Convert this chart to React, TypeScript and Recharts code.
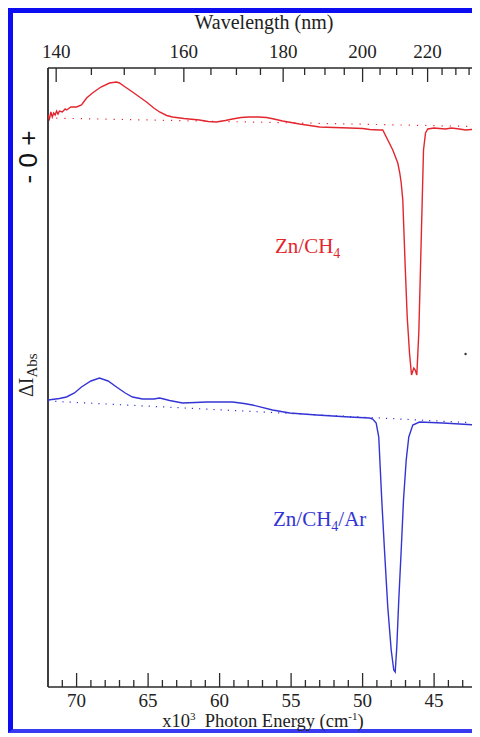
import React from 'react';
import { LineChart, Line, XAxis, YAxis, ReferenceDot, ReferenceLine } from 'recharts';

// Photon energy (x10^3 cm^-1) tick positions on the bottom axis
const energyTicks = [71, 70, 69, 68, 67, 66, 65, 64, 63, 62, 61, 60, 59, 58, 57, 56, 55, 54, 53, 52, 51, 50, 49, 48, 47, 46, 45, 44, 43];
// Wavelength (nm) tick labels on the top axis
const wavelengthTicks = [140, 145, 150, 155, 160, 165, 170, 175, 180, 185, 190, 195, 200, 205, 210, 215, 220, 225, 230, 235];

// Zn/CH4 spectrum (e = photon energy, v = offset ΔI_Abs, arbitrary units)
const redSpectrum = [
  { e: 72.0, v: 57.2 }, { e: 71.9, v: 56.8 }, { e: 71.8, v: 57.5 }, { e: 71.7, v: 57.0 },
  { e: 71.6, v: 57.4 }, { e: 71.5, v: 57.2 }, { e: 71.4, v: 57.6 }, { e: 71.3, v: 57.3 },
  { e: 71.2, v: 57.6 }, { e: 71.0, v: 57.5 }, { e: 70.8, v: 57.8 }, { e: 70.7, v: 57.7 },
  { e: 70.4, v: 58.0 }, { e: 70.0, v: 58.0 }, { e: 69.66, v: 58.2 }, { e: 69.3, v: 58.9 },
  { e: 68.89, v: 59.4 }, { e: 68.3, v: 60.0 }, { e: 67.7, v: 60.4 }, { e: 67.21, v: 60.5 },
  { e: 67.0, v: 60.4 }, { e: 66.6, v: 60.0 }, { e: 66.09, v: 59.5 }, { e: 65.6, v: 59.0 },
  { e: 65.11, v: 58.5 }, { e: 64.6, v: 57.9 }, { e: 64.2, v: 57.5 }, { e: 63.7, v: 57.15 },
  { e: 63.29, v: 57.0 }, { e: 62.5, v: 56.85 }, { e: 61.41, v: 56.7 }, { e: 60.8, v: 56.55 },
  { e: 60.22, v: 56.5 }, { e: 59.6, v: 56.65 }, { e: 59.1, v: 56.8 }, { e: 58.5, v: 56.95 },
  { e: 57.91, v: 57.0 }, { e: 57.3, v: 57.0 }, { e: 56.72, v: 56.95 }, { e: 56.2, v: 56.8 },
  { e: 55.6, v: 56.6 }, { e: 55.0, v: 56.45 }, { e: 54.41, v: 56.3 }, { e: 53.7, v: 56.15 },
  { e: 53.01, v: 56.0 }, { e: 52.0, v: 55.95 }, { e: 50.92, v: 55.9 }, { e: 50.0, v: 55.85 },
  { e: 49.5, v: 55.75 }, { e: 48.81, v: 55.7 }, { e: 48.59, v: 55.7 }, { e: 47.89, v: 53.7 },
  { e: 47.54, v: 52.4 }, { e: 47.4, v: 51.4 }, { e: 47.3, v: 50.4 }, { e: 47.19, v: 48.7 },
  { e: 47.02, v: 42.0 }, { e: 46.88, v: 37.0 }, { e: 46.72, v: 33.4 }, { e: 46.58, v: 31.2 },
  { e: 46.42, v: 31.9 }, { e: 46.32, v: 31.7 }, { e: 46.21, v: 31.2 }, { e: 46.07, v: 35.4 },
  { e: 45.95, v: 42.0 }, { e: 45.83, v: 48.7 }, { e: 45.74, v: 53.7 }, { e: 45.6, v: 55.4 },
  { e: 45.44, v: 55.8 }, { e: 45.0, v: 55.9 }, { e: 44.62, v: 55.85 }, { e: 44.2, v: 55.8 },
  { e: 43.8, v: 55.9 }, { e: 43.22, v: 55.8 }, { e: 42.8, v: 55.7 }, { e: 42.4, v: 55.75 },
  { e: 42.0, v: 55.7 },
];

// Zn/CH4/Ar spectrum
const blueSpectrum = [
  { e: 72.0, v: 28.7 }, { e: 71.2, v: 28.85 }, { e: 70.71, v: 29.0 }, { e: 70.15, v: 29.4 },
  { e: 69.66, v: 30.0 }, { e: 69.0, v: 30.6 }, { e: 68.4, v: 30.9 }, { e: 67.8, v: 30.6 },
  { e: 67.21, v: 30.0 }, { e: 66.6, v: 29.4 }, { e: 66.09, v: 29.0 }, { e: 65.39, v: 28.8 },
  { e: 64.6, v: 28.8 }, { e: 64.2, v: 28.9 }, { e: 63.9, v: 28.8 }, { e: 63.5, v: 28.65 },
  { e: 62.59, v: 28.4 }, { e: 61.7, v: 28.45 }, { e: 60.92, v: 28.5 }, { e: 59.1, v: 28.5 },
  { e: 58.3, v: 28.35 }, { e: 57.7, v: 28.2 }, { e: 56.3, v: 27.7 }, { e: 55.1, v: 27.4 },
  { e: 53.22, v: 27.2 }, { e: 50.92, v: 27.0 }, { e: 49.52, v: 26.9 }, { e: 49.29, v: 26.8 },
  { e: 49.05, v: 26.4 }, { e: 48.87, v: 25.0 }, { e: 48.77, v: 22.0 }, { e: 48.66, v: 18.7 },
  { e: 48.47, v: 13.7 }, { e: 48.24, v: 8.0 }, { e: 48.0, v: 3.7 }, { e: 47.82, v: 1.7 },
  { e: 47.72, v: 1.5 }, { e: 47.61, v: 4.0 }, { e: 47.47, v: 8.7 }, { e: 47.3, v: 13.7 },
  { e: 47.14, v: 18.7 }, { e: 46.95, v: 22.7 }, { e: 46.77, v: 25.0 }, { e: 46.49, v: 26.2 },
  { e: 46.02, v: 26.5 }, { e: 44.39, v: 26.4 }, { e: 43.22, v: 26.3 }, { e: 42.0, v: 26.2 },
];

// Dotted baselines
const redBaseline = [{ e: 72, v: 56.9 }, { e: 42, v: 56.05 }];
const blueBaseline = [{ e: 72, v: 28.6 }, { e: 42, v: 26.4 }];

const Y_MAX = 61.9;
const X_MIN = 42;
const X_MAX = 72;
const AXIS = '#2a2a2a';
const RED = '#e3262e';
const BLUE = '#3434d4';
const SERIF = '"Liberation Serif", "Times New Roman", Times, serif';
const SANS = '"Liberation Sans", Arial, sans-serif';

const BottomTick = (props: any) => {
  const { x, y, payload } = props;
  const v = Math.round(payload.value);
  const major = v % 5 === 0;
  return (
    <g>
      <line x1={x} x2={x} y1={y} y2={y - (major ? 14 : 7)} stroke={AXIS} strokeWidth={1.3} />
      {major && (
        <text x={x} y={y + 20} textAnchor="middle" fontFamily={SERIF} fontSize={19} fill="#222">
          {v}
        </text>
      )}
    </g>
  );
};

const TopTick = (props: any) => {
  const { x, y, payload } = props;
  const wl = Math.round(10000 / payload.value);
  const major = wl % 20 === 0;
  return (
    <g>
      <line x1={x} x2={x} y1={y} y2={y + (major ? 14 : 7)} stroke={AXIS} strokeWidth={1.3} />
      {major && (
        <text x={x} y={y - 10} textAnchor="middle" fontFamily={SERIF} fontSize={19} fill="#222">
          {wl}
        </text>
      )}
    </g>
  );
};

export default function App() {
  return (
    <div
      style={{
        position: 'relative',
        width: 472,
        height: 725,
        boxSizing: 'border-box',
        borderTop: '5px solid #0d0df2',
        borderLeft: '5px solid #0d0df2',
        borderBottom: '4px solid #3a3af0',
        borderRight: 'none',
        background: '#fff',
      }}
    >
      <style>{'html,body{overflow:hidden;}'}</style>
      <LineChart width={467} height={716} margin={{ top: 25, right: 3, bottom: 12, left: 35 }}>
        <XAxis
          xAxisId="bottom"
          dataKey="e"
          type="number"
          domain={[X_MIN, X_MAX]}
          reversed
          allowDataOverflow
          ticks={energyTicks}
          interval={0}
          height={30}
          tickSize={0}
          tickMargin={0}
          tickLine={false}
          tick={<BottomTick />}
          axisLine={{ stroke: AXIS, strokeWidth: 1.6 }}
        />
        <XAxis
          xAxisId="top"
          orientation="top"
          dataKey="e"
          type="number"
          domain={[X_MIN, X_MAX]}
          reversed
          allowDataOverflow
          ticks={wavelengthTicks.map((w) => 10000 / w)}
          interval={0}
          height={30}
          tickSize={0}
          tickMargin={0}
          tickLine={false}
          tick={<TopTick />}
          axisLine={{ stroke: AXIS, strokeWidth: 1.6 }}
        />
        <YAxis yAxisId="left" type="number" domain={[0, Y_MAX]} allowDataOverflow width={0} hide />
        <ReferenceLine xAxisId="bottom" yAxisId="left" x={X_MAX} stroke={AXIS} strokeWidth={1.8} ifOverflow="visible" />
        <ReferenceLine xAxisId="bottom" yAxisId="left" x={X_MIN} stroke={AXIS} strokeWidth={1.8} ifOverflow="visible" />
        <Line
          xAxisId="bottom"
          yAxisId="left"
          data={redBaseline}
          dataKey="v"
          type="linear"
          stroke={RED}
          strokeWidth={1.2}
          strokeDasharray="1.2 7"
          dot={false}
          isAnimationActive={false}
        />
        <Line
          xAxisId="bottom"
          yAxisId="left"
          data={blueBaseline}
          dataKey="v"
          type="linear"
          stroke={BLUE}
          strokeWidth={1.2}
          strokeDasharray="1.2 6"
          dot={false}
          isAnimationActive={false}
        />
        <Line
          xAxisId="bottom"
          yAxisId="left"
          data={redSpectrum}
          dataKey="v"
          type="linear"
          stroke={RED}
          strokeWidth={1.4}
          dot={false}
          isAnimationActive={false}
        />
        <Line
          xAxisId="bottom"
          yAxisId="left"
          data={blueSpectrum}
          dataKey="v"
          type="linear"
          stroke={BLUE}
          strokeWidth={1.4}
          dot={false}
          isAnimationActive={false}
        />
        <ReferenceDot xAxisId="bottom" yAxisId="left" x={42.8} y={33.3} r={1.2} fill="#333" stroke="none" />
      </LineChart>
      <svg
        width={467}
        height={716}
        style={{ position: 'absolute', left: 0, top: 0, pointerEvents: 'none', overflow: 'visible' }}
      >
        <text x={251} y={16} textAnchor="middle" fontFamily={SERIF} fontSize={20} fill="#222">
          Wavelength (nm)
        </text>
        <text x={250} y={714} textAnchor="middle" fontFamily={SERIF} fontSize={18.5} fill="#222">
          x10
          <tspan fontSize={11} dy={-7}>3</tspan>
          <tspan dy={7}>{'\u00a0\u00a0Photon Energy (cm'}</tspan>
          <tspan fontSize={11} dy={-7}>-1</tspan>
          <tspan dy={7}>)</tspan>
        </text>
        <text x={262} y={240} fontFamily={SERIF} fontSize={21} fill={RED}>
          Zn/CH
          <tspan fontSize={14} dy={5}>4</tspan>
        </text>
        <text x={260} y={513} fontFamily={SERIF} fontSize={21} fill={BLUE}>
          Zn/CH
          <tspan fontSize={14} dy={5}>4</tspan>
          <tspan dy={-5}>/Ar</tspan>
        </text>
        <text transform="translate(24,144) rotate(-90)" textAnchor="middle" fontFamily={SANS} fontSize={26} fill="#111">
          {'-\u00a00\u00a0+'}
        </text>
        <text transform="translate(20,384) rotate(-90)" fontFamily={SERIF} fontSize={20} fill="#222">
          ΔI
          <tspan fontSize={15} dy={4}>Abs</tspan>
        </text>
      </svg>
    </div>
  );
}
